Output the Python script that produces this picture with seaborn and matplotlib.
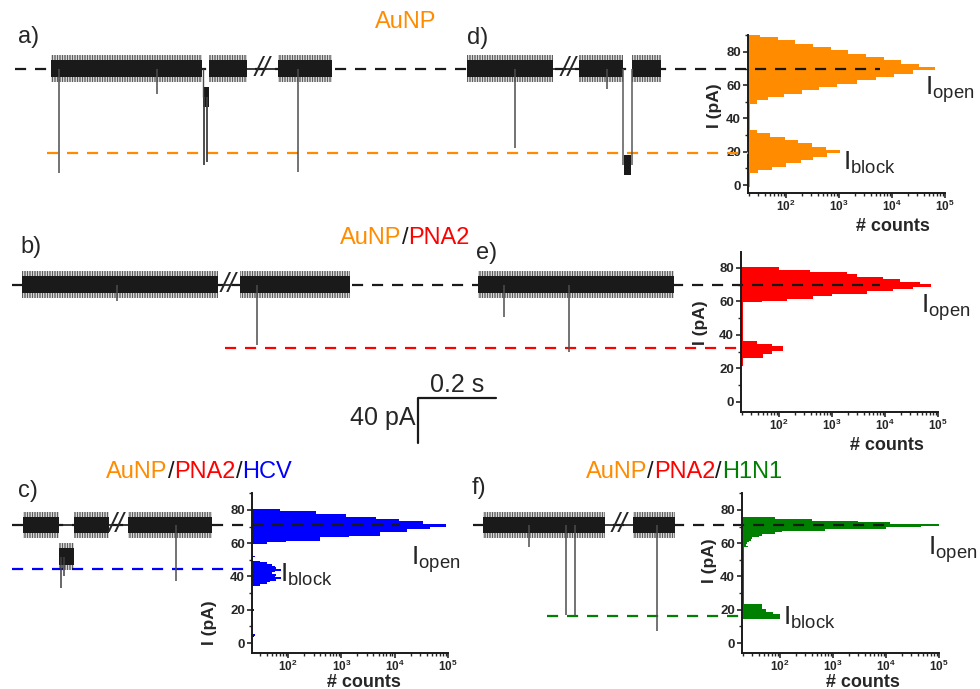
import matplotlib
matplotlib.use("Agg")
import numpy as np
import pandas as pd
import matplotlib.pyplot as plt
import seaborn as sns
from matplotlib.ticker import FixedLocator, FixedFormatter, LogLocator, NullFormatter, MultipleLocator
from matplotlib.offsetbox import TextArea, HPacker, AnnotationBbox

sns.set_theme(style="ticks")
plt.rcParams["font.family"] = ["Liberation Sans", "DejaVu Sans"]
plt.rcParams["mathtext.fontset"] = "custom"
plt.rcParams["mathtext.rm"] = "Liberation Sans"
plt.rcParams["mathtext.bf"] = "Liberation Sans:bold"
plt.rcParams["mathtext.it"] = "Liberation Sans:italic"
plt.rcParams["hatch.linewidth"] = 0.5
plt.rcParams["hatch.color"] = "0.1"

W, H = 980, 689
ORANGE = "#ff8c00"
RED = "#ff0000"
BLUE = "#0000ff"
GREEN = "#008000"

# ---- current histograms (pA bin centres, counts) ----
GAP_N = 21
d_open_pA = list(range(48, 91, 2))
d_open_n = [21, 28, 45, 90, 200, 420, 900, 2200, 5000, 11000, 25000, 65000,
            32000, 15000, 7000, 3200, 1500, 700, 330, 150, 70, 32]
d_block_pA = list(range(8, 33, 2))
d_block_n = [30, 55, 100, 190, 330, 600, 1050, 560, 310, 170, 95, 50, 28]
d_gap_pA = [0, 2, 4, 6, 34, 36, 38, 40, 42, 44, 46]

e_open_pA = list(range(60, 81))
e_open_n = [48, 140, 430, 430, 1000, 4500, 4500, 14000, 34000, 75000, 75000,
            45000, 19000, 19000, 9000, 3000, 3000, 1900, 380, 100, 100]
e_block_pA = list(range(27, 37))
e_block_n = [50, 50, 75, 75, 120, 120, 120, 74, 38, 38]
e_gap_pA = [22, 23, 24, 25, 26] + list(range(37, 60))

c_open_pA = list(range(60, 81))
c_open_n = [40, 93, 390, 390, 1400, 5200, 5200, 17000, 17000, 45000, 93000,
            93000, 34000, 34000, 12000, 4500, 1200, 1200, 340, 340, 70]
c_block_pA = list(range(35, 50))
c_block_n = [30, 40, 45, 60, 75, 56, 60, 50, 56, 75, 60, 56, 50, 40, 30]
c_low_pA = [4, 5, 20, 51, 52]
c_low_n = [23, 24, 23, 22, 24]

f_open_pA = list(range(58, 76))
f_open_n = [25, 23, 24, 26, 28, 30, 40, 45, 80, 110, 700, 10000, 45000,
            100000, 12000, 3000, 400, 80]
f_block_pA = list(range(15, 24))
f_block_n = [100, 100, 100, 75, 55, 55, 45, 45, 45]
f_gap_pA = list(range(24, 58))

# ---- current traces (time in s, current in pA) ----
a_seg = [(0.130, 0.515), (0.533, 0.630), (0.709, 0.847)]
a_breaks = [0.668]
a_spikes_t = [0.151, 0.401, 0.760]
a_spikes_i = [7, 55, 8]
a_block = (0.517, 0.532, 53)
a_block_spk_t = [0.521, 0.528]
a_block_spk_i = [12, 14]

d_seg = [(1.191, 1.411), (1.477, 1.590), (1.612, 1.686)]
d_breaks = [1.449]
d_spikes_t = [1.314, 1.548]
d_spikes_i = [22, 58]
d_block = (1.590, 1.612, 12)

b_seg = [(0.056, 0.556), (0.612, 0.893)]
b_breaks = [0.582]
b_spikes_t = [0.298, 0.656]
b_spikes_i = [60, 34]
e_seg = [(1.219, 1.720)]
e_spikes_t = [1.286, 1.452]
e_spikes_i = [51, 30]

c_seg = [(0.059, 0.151), (0.189, 0.278), (0.327, 0.541)]
c_breaks = [0.298]
c_spikes_t = [0.449]
c_spikes_i = [37]
c_block = (0.151, 0.189, 52)
c_block_spk_t = [0.156, 0.163]
c_block_spk_i = [33, 40]

f_seg = [(1.232, 1.543), (1.615, 1.722)]
f_breaks = [1.579]
f_spikes_t = [1.349, 1.444, 1.467, 1.676]
f_spikes_i = [58, 17, 16, 7]

fig = plt.figure(figsize=(W / 100, H / 100), dpi=100)


def box(l, t, r, b):
    return [l / W, 1 - b / H, (r - l) / W, (b - t) / H]


def hist(rect, ylim, xmin, pA, n, color, width, xlab, ylab):
    ax = fig.add_axes(box(*rect))
    df = pd.DataFrame({"pA": pA, "n": n})
    sns.histplot(data=df, y="pA", weights="n", binwidth=width,
                 binrange=(-width / 2, 90 + width / 2), color=color, alpha=1,
                 linewidth=0, ax=ax)
    ax.set_xscale("log")
    ax.set_xlim(xmin, 1e5)
    ax.set_ylim(*ylim)
    ax.xaxis.set_major_locator(FixedLocator([1e2, 1e3, 1e4, 1e5]))
    ax.xaxis.set_major_formatter(FixedFormatter(
        [r"$\mathbf{10^{2}}$", r"$\mathbf{10^{3}}$", r"$\mathbf{10^{4}}$", r"$\mathbf{10^{5}}$"]))
    ax.xaxis.set_minor_locator(LogLocator(base=10, subs=np.arange(2, 10) * 1.0, numticks=20))
    ax.xaxis.set_minor_formatter(NullFormatter())
    ax.yaxis.set_major_locator(MultipleLocator(20))
    ax.yaxis.set_minor_locator(MultipleLocator(10))
    ax.tick_params(which="major", direction="out", length=3.5, width=1.2, pad=1.5)
    ax.tick_params(which="minor", direction="out", length=2.2, width=1)
    ax.tick_params(axis="x", labelsize=8.5, pad=1)
    ax.tick_params(axis="y", labelsize=9.5)
    for lab in ax.get_yticklabels():
        lab.set_fontweight("bold")
    sns.despine(ax=ax)
    for s in ("left", "bottom"):
        ax.spines[s].set_linewidth(1.4)
        ax.spines[s].set_color("k")
    ax.set_xlabel("# counts", fontsize=13, fontweight="bold")
    ax.set_ylabel("I (pA)", fontsize=12.5, fontweight="bold")
    ax.xaxis.set_label_coords(*xlab)
    ax.yaxis.set_label_coords(*ylab)
    ax.patch.set_alpha(0)
    return ax


def trace_axes(rect, ylim):
    ax = fig.add_axes(box(*rect))
    ax.set_xlim(0, 2.5)
    ax.set_ylim(*ylim)
    ax.axis("off")
    ax.patch.set_alpha(0)
    return ax


def segment(ax, t0, t1, level):
    # noisy open-pore current drawn as a hatched noise envelope around a solid core
    ax.fill_between([t0, t1], level - 8, level + 8, facecolor="none", edgecolor="0.1",
                    hatch="||||||||||", lw=0, zorder=4)
    ax.fill_between([t0, t1], level - 5, level + 5, color="k", lw=0, zorder=5)


def trace(ax, segs, breaks, sp_t, sp_i, level):
    for t0, t1 in segs:
        segment(ax, t0, t1, level)
    for (a0, a1), (b0, b1) in zip(segs[:-1], segs[1:]):
        if b0 - a1 > 0.03:
            ax.plot([a1, b0], [level, level], color="k", lw=1.2, zorder=5)
    for tb in breaks:
        ax.text(tb, level, "//", fontsize=20, style="italic", ha="center", va="center", zorder=6)
    ax.vlines(sp_t, sp_i, level, color="0.3", lw=1.1, zorder=5)


def dashed(ax, t0, t1, level, color):
    ax.plot([t0, t1], [level, level], color=color, lw=1.6, ls=(0, (5, 4)), zorder=3)


def title(parts, x, y):
    boxes = [TextArea(s, textprops=dict(color=c, fontsize=17)) for s, c in parts]
    pack = HPacker(children=boxes, align="baseline", pad=0, sep=0)
    ab = AnnotationBbox(pack, (x / W, 1 - y / H), xycoords="figure fraction",
                        frameon=False, box_alignment=(0.5, 0.5))
    fig.add_artist(ab)


def ftext(x, y, s, **kw):
    fig.text(x / W, 1 - y / H, s, **kw)


# ---- histograms ----
ylim1 = (-4.8, 90.2)
ylim2 = (-6, 89.5)
ylim3 = (-6, 90.2)
hd = hist((748, 35, 945, 193), ylim1, 19.2,
          d_block_pA + d_gap_pA + d_open_pA,
          d_block_n + [GAP_N] * len(d_gap_pA) + d_open_n, ORANGE, 2,
          (0.736, -0.16), (-0.13, 0.55))
he = hist((741, 252, 938, 412), ylim2, 19.2,
          e_block_pA + e_gap_pA + e_open_pA,
          e_block_n + [GAP_N] * len(e_gap_pA) + e_open_n, RED, 1,
          (0.74, -0.155), (-0.165, 0.56))
hc = hist((252, 493, 448, 653), ylim3, 21,
          c_low_pA + c_block_pA + c_open_pA,
          c_low_n + c_block_n + c_open_n, BLUE, 1,
          (0.57, -0.13), (-0.18, 0.19))
hf = hist((742, 493, 939, 653), ylim3, 19.2,
          f_block_pA + f_gap_pA + f_open_pA,
          f_block_n + [GAP_N] * len(f_gap_pA) + f_open_n, GREEN, 1,
          (0.615, -0.13), (-0.125, 0.58))

# ---- traces ----
t1 = trace_axes((0, 35, 980, 193), ylim1)
dashed(t1, 0.038, 2.245, 70, "k")
dashed(t1, 0.120, 1.908, 19, ORANGE)
trace(t1, a_seg, a_breaks, a_spikes_t, a_spikes_i, 70)
t1.fill_between([a_block[0], a_block[1]], a_block[2] - 6, a_block[2] + 6, color="k", lw=0, zorder=5)
t1.vlines(a_block_spk_t, a_block_spk_i, a_block[2], color="0.25", lw=1.3, zorder=5)
t1.vlines([a_block[0]], a_block[2], 70, color="0.3", lw=1.0, zorder=5)
trace(t1, d_seg, d_breaks, d_spikes_t, d_spikes_i, 70)
t1.fill_between([d_block[0] + 0.003, d_block[1] - 0.003], d_block[2] - 6, d_block[2] + 6,
                color="k", lw=0, zorder=5)
t1.vlines([d_block[0], d_block[1]], d_block[2], 70, color="0.35", lw=1.1, zorder=5)

t2 = trace_axes((0, 252, 980, 412), ylim2)
dashed(t2, 0.031, 2.245, 70, "k")
dashed(t2, 0.574, 1.890, 32, RED)
trace(t2, b_seg, b_breaks, b_spikes_t, b_spikes_i, 70)
trace(t2, e_seg, [], e_spikes_t, e_spikes_i, 70)

t3 = trace_axes((0, 493, 980, 653), ylim3)
dashed(t3, 0.031, 1.020, 71, "k")
dashed(t3, 0.031, 0.643, 44.5, BLUE)
dashed(t3, 1.207, 2.263, 71, "k")
dashed(t3, 1.395, 1.893, 16, GREEN)
trace(t3, c_seg, c_breaks, c_spikes_t, c_spikes_i, 71)
segment(t3, c_block[0], c_block[1], c_block[2])
t3.vlines(c_block_spk_t, c_block_spk_i, c_block[2], color="0.25", lw=1.1, zorder=5)
trace(t3, f_seg, f_breaks, f_spikes_t, f_spikes_i, 71)

# ---- scale bar ----
sb = fig.add_axes(box(418, 398, 496, 443))
sb.set_xlim(0, 0.2)
sb.set_ylim(0, 40)
sb.axis("off")
sb.plot([0, 0, 0.2], [0, 40, 40], color="k", lw=1.6, clip_on=False)
sb.text(0.1, 41, "0.2 s", fontsize=18, ha="center", va="bottom")
sb.text(-0.006, 22, "40 pA", fontsize=18, ha="right", va="center")

# ---- labels ----
for s, x, y in [("a)", 18, 37), ("d)", 467, 38), ("b)", 20, 247), ("e)", 476, 253),
                ("c)", 18, 491), ("f)", 472, 488)]:
    ftext(x, y, s, fontsize=17, ha="left", va="center")

title([("AuNP", ORANGE)], 406, 22)
title([("AuNP", ORANGE), ("/", "k"), ("PNA2", RED)], 405, 238)
title([("AuNP", ORANGE), ("/", "k"), ("PNA2", RED), ("/", "k"), ("HCV", BLUE)], 199, 472)
title([("AuNP", ORANGE), ("/", "k"), ("PNA2", RED), ("/", "k"), ("H1N1", GREEN)], 684, 472)

for x, y, s in [(925, 90, r"I$_{\mathrm{open}}$"), (843, 163, r"I$_{\mathrm{block}}$"),
                (921, 308, r"I$_{\mathrm{open}}$"), (411, 560, r"I$_{\mathrm{open}}$"),
                (280, 575, r"I$_{\mathrm{block}}$"), (928, 550, r"I$_{\mathrm{open}}$"),
                (783, 618, r"I$_{\mathrm{block}}$")]:
    ftext(x, y, s, fontsize=19, ha="left", va="center")

fig.savefig("out.png", dpi=100)
